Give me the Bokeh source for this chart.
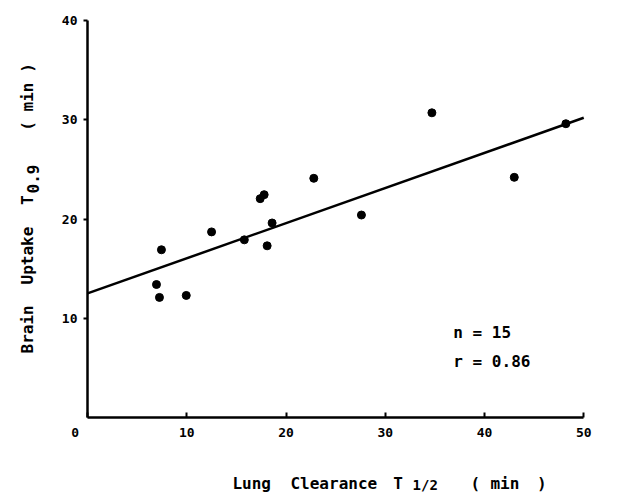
import math
from bokeh.plotting import figure
from bokeh.models import Range1d, FixedTicker, Label, ColumnDataSource
from bokeh.embed import file_html
from bokeh.resources import INLINE

# --- data ---
lung_clearance = [6.95, 7.25, 7.45, 9.95, 12.5, 15.8, 17.4, 17.8, 18.1, 18.6, 22.8, 27.6, 34.7, 43.0, 48.2]
brain_uptake = [13.4, 12.1, 16.9, 12.3, 18.7, 17.9, 22.05, 22.45, 17.3, 19.6, 24.1, 20.4, 30.7, 24.2, 29.6]
fit_intercept = 12.5
fit_slope = 0.354
x_ticks = [0, 10, 20, 30, 40, 50]
y_ticks = [10, 20, 30, 40]
stats_lines = ["n = 15", "r = 0.86"]

FONT = "DejaVu Sans Mono"
W, H = 618, 492
PX = 9.925            # pixels per data unit (both axes)
OX, OY = 87, 417      # pixel position of the origin

p = figure(width=W, height=H, output_backend="svg", toolbar_location=None,
           x_range=Range1d(-OX / PX, (W - OX) / PX),
           y_range=Range1d((OY - H) / PX, OY / PX),
           min_border=0, min_border_left=0, min_border_right=0,
           min_border_top=0, min_border_bottom=0)
p.outline_line_color = None
p.grid.visible = False
p.background_fill_color = "white"
p.border_fill_color = "white"

# x axis (drawn at y = 0, limited to 0..50)
p.xaxis.fixed_location = 0
p.xaxis.bounds = (x_ticks[0], x_ticks[-1])
p.xaxis.ticker = FixedTicker(ticks=x_ticks)
p.xaxis.minor_tick_line_color = None
p.xaxis.major_tick_in = 5
p.xaxis.major_tick_out = 0
p.xaxis.major_tick_line_width = 2
p.xaxis.axis_line_width = 2.5
p.xaxis.axis_line_color = "black"
p.xaxis.major_tick_line_color = "black"
p.xaxis.major_label_text_font = FONT
p.xaxis.major_label_text_font_style = "bold"
p.xaxis.major_label_text_font_size = "13px"
p.xaxis.major_label_text_color = "black"
p.xaxis.major_label_standoff = 10
p.xaxis.major_label_overrides = {0: ""}

# y axis (drawn at x = 0, limited to 0..40)
p.yaxis.fixed_location = 0
p.yaxis.bounds = (0, y_ticks[-1])
p.yaxis.ticker = FixedTicker(ticks=y_ticks)
p.yaxis.minor_tick_line_color = None
p.yaxis.major_tick_in = 0
p.yaxis.major_tick_out = 4
p.yaxis.major_tick_line_width = 2
p.yaxis.axis_line_width = 2.5
p.yaxis.axis_line_color = "black"
p.yaxis.major_tick_line_color = "black"
p.yaxis.major_label_text_font = FONT
p.yaxis.major_label_text_font_style = "bold"
p.yaxis.major_label_text_font_size = "13px"
p.yaxis.major_label_text_color = "black"
p.yaxis.major_label_standoff = 6

# regression line over the x axis extent
x0, x1 = x_ticks[0], x_ticks[-1]
p.line([x0, x1], [fit_intercept + fit_slope * x0, fit_intercept + fit_slope * x1],
       line_color="black", line_width=2.5)

# points
src = ColumnDataSource(dict(x=lung_clearance, y=brain_uptake))
p.scatter("x", "y", source=src, size=8, fill_color="black", line_color="black")

def lab(x, y, text, size="16px", angle=0.0, baseline="alphabetic", align="left"):
    p.add_layout(Label(x=x, y=y, text=text, text_font=FONT, text_font_style="bold",
                       text_font_size=size, text_color="black", angle=angle,
                       text_baseline=baseline, text_align=align))

# origin "0" label, slightly left of the axis
lab(-1.25, -1.05, "0", size="13px", baseline="top", align="center")

# stats text
lab(36.86, 8.56, stats_lines[0])
lab(36.86, 5.64, stats_lines[1])

# x axis title with subscript
lab(14.6, -6.65, "Lung")
lab(20.45, -6.65, "Clearance")
lab(30.8, -6.65, "T")
lab(32.75, -6.85, "1/2", size="14px")
lab(38.6, -6.65, "(")
lab(40.6, -6.65, "min")
lab(45.3, -6.65, ")")

# y axis title with subscript (rotated)
a = math.pi / 2
lab(-6.05, 6.45, "Brain", angle=a)
lab(-6.05, 13.4, "Uptake", angle=a)
lab(-6.05, 21.4, "T", angle=a)
lab(-5.5, 22.57, "0.9", angle=a)
lab(-6.05, 28.9, "( min )", angle=a)

open("out.html", "w").write(file_html(p, INLINE))
